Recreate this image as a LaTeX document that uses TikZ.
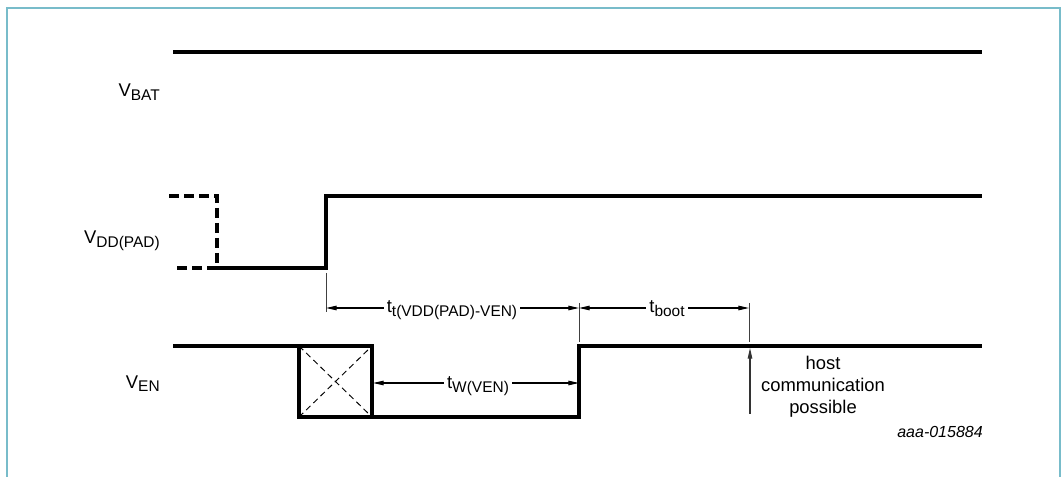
\documentclass[tikz,border=0pt]{standalone}
\usepackage{fontspec}
\setmainfont{Liberation Sans}
\usetikzlibrary{arrows.meta}
\definecolor{framec}{RGB}{120,188,202}
\newcommand\subsc[1]{\raisebox{-2.3pt}{\fontsize{11.6}{12}\selectfont #1}}
\begin{document}
\begin{tikzpicture}[x=0.75pt,y=-0.75pt,
  sig/.style={line width=2.3pt, line join=miter},
  dimln/.style={line width=0.8pt, {Triangle[length=8pt,width=3.4pt]}-{Triangle[length=8pt,width=3.4pt]}},
  extln/.style={line width=0.7pt, draw=black!75},
  lbl/.style={font=\fontsize{13.8}{16.5}\selectfont, inner sep=0pt},
  dimlbl/.style={lbl, fill=white, inner xsep=2.5pt, inner ysep=1pt}]
\useasboundingbox (0,0) rectangle (1061,477);
% frame
\draw[framec, line width=1.1pt] (7,480) -- (7,8) -- (1060,8) -- (1060,480);
% VBAT
\coordinate (b0) at (173,52); \coordinate (b1) at (982,52);
\draw[sig] (b0) -- (b1);
\node[lbl, anchor=base east] (lbat) at (160,97) {V\subsc{BAT}};
% VDD(PAD)
\coordinate (d0) at (169,196); \coordinate (d1) at (217,196);
\coordinate (d2) at (217,268); \coordinate (d3) at (173,268);
\coordinate (d4) at (326,268); \coordinate (d5) at (326,196);
\coordinate (d6) at (982,196);
\draw[sig, line cap=butt, dash pattern=on 7.5pt off 3.75pt] (d0) -- (d1) -- (d2) -- (d3);
\draw[sig] (d2) -- (d4) -- (d5) -- (d6);
\node[lbl, anchor=base east] (ldd) at (160,244) {V\subsc{DD(PAD)}};
% VEN
\coordinate (e0) at (173,346); \coordinate (e1) at (299,346);
\coordinate (e2) at (299,417); \coordinate (e3) at (372,417);
\coordinate (e4) at (372,346); \coordinate (e5) at (579,417);
\coordinate (e6) at (579,346); \coordinate (e7) at (982,346);
\draw[sig] (e0) -- (e1) -- (e2) -- (e5) -- (e6) -- (e7);
\draw[sig] (e1) -- (e4) -- (e3);
\draw[line width=0.7pt, dash pattern=on 4.5pt off 3pt] (e1) -- (e3) (e2) -- (e4);
\node[lbl, anchor=base east] (len) at (160,388) {V\subsc{EN}};
% extension lines
\coordinate (x1t) at (326,273); \coordinate (x1b) at (326,312);
\coordinate (x2t) at (579,303); \coordinate (x2b) at (579,342);
\coordinate (x3t) at (749,303); \coordinate (x3b) at (749,342);
\draw[extln] (x1t) -- (x1b) (x2t) -- (x2b) (x3t) -- (x3b);
% dimension lines
\coordinate (t1a) at (326,308); \coordinate (t1b) at (579,308);
\coordinate (t2a) at (579,308); \coordinate (t2b) at (749,308);
\coordinate (t3a) at (373,383); \coordinate (t3b) at (579,383);
\draw[dimln] (t1a) -- (t1b);
\draw[dimln] (t2a) -- (t2b);
\draw[dimln] (t3a) -- (t3b);
\node[dimlbl, anchor=base] (ltt) at (452,313) {t\subsc{t(VDD(PAD)-VEN)}};
\node[dimlbl, anchor=base] (ltb) at (667,313) {t\subsc{boot}};
\node[dimlbl, anchor=base] (ltw) at (478,389) {t\subsc{W(VEN)}};
% host communication arrow
\coordinate (h0) at (750,414); \coordinate (h1) at (750,348);
\draw[line width=0.8pt, draw=black!80, -{Triangle[length=8pt,width=3.4pt]}] (h0) -- (h1);
\node[lbl, align=center] (host) at (823,387) {host\\communication\\possible};
\node[font=\fontsize{12}{14}\selectfont\itshape, inner sep=0pt, anchor=east] (code) at (983,432) {aaa-015884};
\end{tikzpicture}
\end{document}
